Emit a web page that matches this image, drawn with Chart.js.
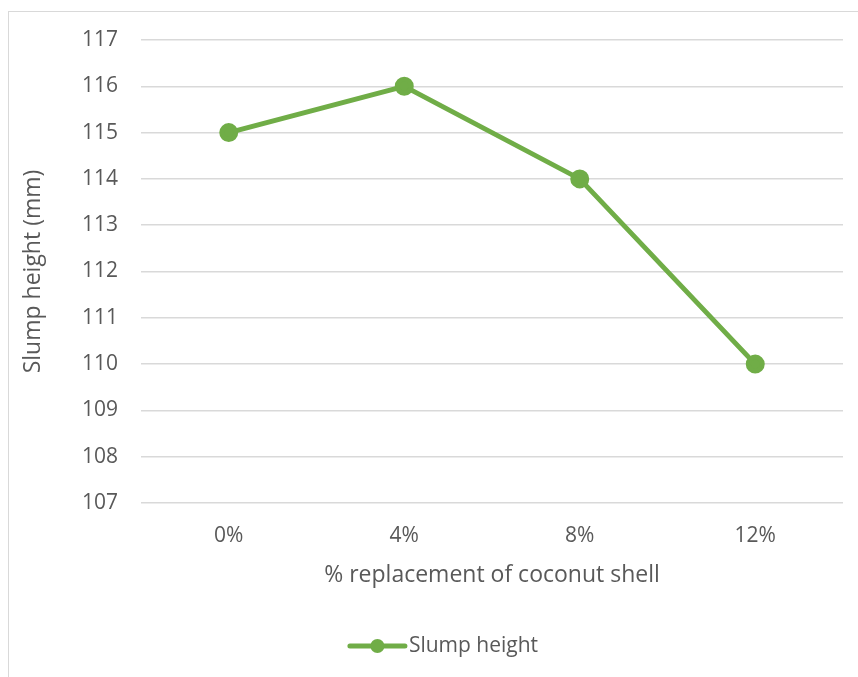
<!DOCTYPE html>
<html>
<head>
<meta charset="utf-8">
<script src="https://cdn.jsdelivr.net/npm/chart.js@4.4.1/dist/chart.umd.min.js"></script>
<style>
  html, body { margin: 0; padding: 0; background: #fff; overflow: hidden; }
  #frame {
    position: absolute; left: 8px; top: 11px;
    width: 870px; height: 680px;
    border-left: 1px solid #d9d9d9; border-top: 1px solid #d9d9d9;
  }
</style>
</head>
<body>
<div id="frame"><canvas id="chart"></canvas></div>
<script>
const categories = ["0%", "4%", "8%", "12%"];
const slumpHeight = [115, 116, 114, 110];
const yMin = 107;
const yMax = 117;

const GREEN = "#70ad47";
const TEXT = "#595959";
const GRID = "#d9d9d9";
const FONT = "'Open Sans', 'Liberation Sans', sans-serif";

// Excel-style legend: a short line with the marker in the middle
const lineLegend = {
  id: "lineLegend",
  afterDraw(chart) {
    const ds = chart.data.datasets[0];
    const ctx = chart.ctx;
    const y = 634;
    const lineLen = 55, gap = 4;
    ctx.save();
    ctx.font = `21px ${FONT}`;
    const tw = ctx.measureText(ds.label).width;
    const x0 = chart.width / 2 - (lineLen + gap + tw) / 2;
    ctx.strokeStyle = ds.borderColor;
    ctx.lineWidth = 5;
    ctx.lineCap = "round";
    ctx.beginPath();
    ctx.moveTo(x0, y);
    ctx.lineTo(x0 + lineLen, y);
    ctx.stroke();
    ctx.fillStyle = ds.pointBackgroundColor;
    ctx.beginPath();
    ctx.arc(x0 + lineLen / 2, y, 7, 0, Math.PI * 2);
    ctx.fill();
    ctx.fillStyle = TEXT;
    ctx.textBaseline = "middle";
    ctx.fillText(ds.label, x0 + lineLen + gap, y);
    ctx.restore();
  }
};

new Chart(document.getElementById("chart"), {
  type: "line",
  data: {
    labels: categories,
    datasets: [{
      label: "Slump height",
      data: slumpHeight,
      borderColor: GREEN,
      backgroundColor: GREEN,
      pointBackgroundColor: GREEN,
      pointBorderColor: GREEN,
      borderWidth: 5,
      pointRadius: 7,
      tension: 0
    }]
  },
  options: {
    responsive: true,
    maintainAspectRatio: false,
    animation: false,
    layout: { padding: { top: 28, right: 36, bottom: 99, left: 0 } },
    plugins: { legend: { display: false }, tooltip: { enabled: false } },
    scales: {
      x: {
        offset: true,
        grid: { display: false, drawTicks: false },
        border: { display: false },
        ticks: { color: TEXT, font: { family: FONT, size: 21 }, padding: 20 },
        title: {
          display: true,
          text: "% replacement of coconut shell",
          color: TEXT,
          font: { family: FONT, size: 23 },
          padding: { top: 0, bottom: 4 }
        },
        afterFit(scale) { scale.height = 90; }
      },
      y: {
        min: yMin,
        max: yMax,
        // invisible tick marks keep the labels clear of the plot
        grid: { color: GRID, lineWidth: 1.5, drawTicks: true, tickLength: 23, tickColor: "rgba(0,0,0,0)" },
        border: { display: false },
        ticks: { stepSize: 1, color: TEXT, font: { family: FONT, size: 21 }, padding: 0 },
        title: {
          display: true,
          text: "Slump height (mm)",
          color: TEXT,
          font: { family: FONT, size: 23 },
          padding: { top: 11, bottom: 0 }
        },
        afterFit(scale) { scale.width = 132; }
      }
    }
  },
  plugins: [lineLegend]
});
</script>
</body>
</html>
